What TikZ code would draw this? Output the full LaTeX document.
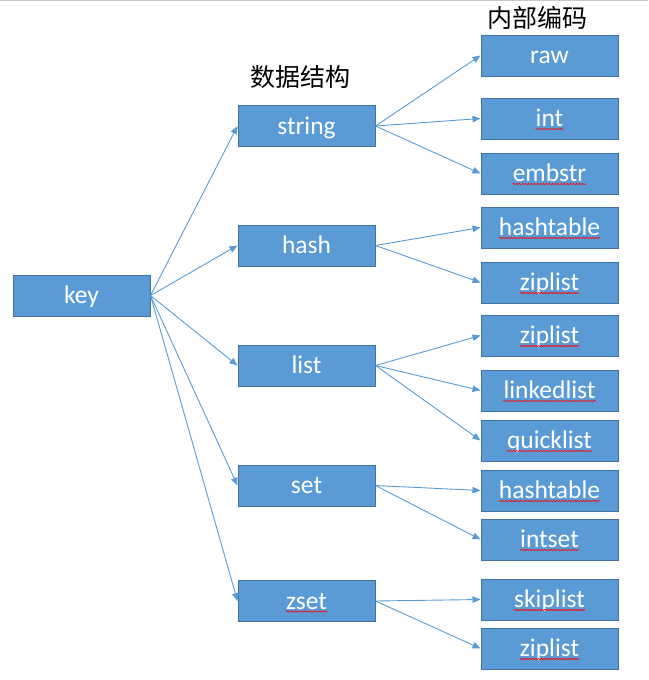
\documentclass[tikz,border=0pt]{standalone}
\usepackage{fontspec}
\setmainfont{Carlito}
\newfontfamily\cjk{Noto Sans CJK SC}
\usetikzlibrary{arrows.meta,decorations.pathmorphing}
\definecolor{boxfill}{HTML}{5B9BD5}
\definecolor{boxline}{HTML}{41719C}
\definecolor{arrowc}{HTML}{5B9BD5}
\definecolor{topline}{HTML}{C8C8C8}
\newcommand\mybox[4]{\node[box] (#1) at (#2,#3) {}; \node[lbl] (#1t) at ([yshift=-8pt]#1.center) {#4};}
\newcommand\mysq[1]{\draw[squig] ([yshift=-2.5pt]#1t.base west) -- ([yshift=-2.5pt]#1t.base east);}
\begin{document}
\begin{tikzpicture}[x=1pt,y=-1pt,
  box/.style={draw=boxline, fill=boxfill, line width=1pt, minimum width=137pt, minimum height=41pt, inner sep=0pt},
  lbl/.style={text=white, font=\fontsize{25.5}{28}\selectfont, inner sep=0pt, anchor=base},
  link/.style={draw=arrowc, line width=0.9pt, -{Triangle[length=8pt,width=6.5pt]}},
  squig/.style={draw=red, line width=0.6pt, decorate, decoration={snake, amplitude=0.7pt, segment length=3pt}},
  title/.style={font=\cjk\fontsize{25}{28}\selectfont, inner sep=0pt}]
\useasboundingbox (0,0) rectangle (648,680);
\draw[topline, line width=1pt] (0,0.5) -- (648,0.5);
\node[title] (ttl1) at (300,77) {数据结构};
\node[title] (ttl2) at (537,18) {内部编码};
\mybox{key}{81.5}{295.5}{key}
\mybox{string}{306.5}{126}{string}
\mybox{hash}{306.5}{245.5}{hash}
\mybox{list}{306.5}{365.5}{list}
\mybox{set}{306.5}{485.5}{set}
\mybox{zset}{306.5}{601}{zset}
\mybox{r1}{549.5}{55.5}{raw}
\mybox{r2}{549.5}{118.5}{int}
\mybox{r3}{549.5}{173.5}{embstr}
\mybox{r4}{549.5}{227.5}{hashtable}
\mybox{r5}{549.5}{282.5}{ziplist}
\mybox{r6}{549.5}{335.5}{ziplist}
\mybox{r7}{549.5}{390.5}{linkedlist}
\mybox{r8}{549.5}{440.5}{quicklist}
\mybox{r9}{549.5}{490.5}{hashtable}
\mybox{r10}{549.5}{539.5}{intset}
\mybox{r11}{549.5}{599.5}{skiplist}
\mybox{r12}{549.5}{648.5}{ziplist}
\mysq{zset}\mysq{r2}\mysq{r3}\mysq{r4}\mysq{r5}\mysq{r6}
\mysq{r7}\mysq{r8}\mysq{r9}\mysq{r10}\mysq{r11}\mysq{r12}
\foreach \m in {string,hash,list,set,zset}{\draw[link] (key.east) -- (\m.west);}
\foreach \r in {r1,r2,r3}{\draw[link] (string.east) -- (\r.west);}
\foreach \r in {r4,r5}{\draw[link] (hash.east) -- (\r.west);}
\foreach \r in {r6,r7,r8}{\draw[link] (list.east) -- (\r.west);}
\foreach \r in {r9,r10}{\draw[link] (set.east) -- (\r.west);}
\foreach \r in {r11,r12}{\draw[link] (zset.east) -- (\r.west);}
\end{tikzpicture}
\end{document}
